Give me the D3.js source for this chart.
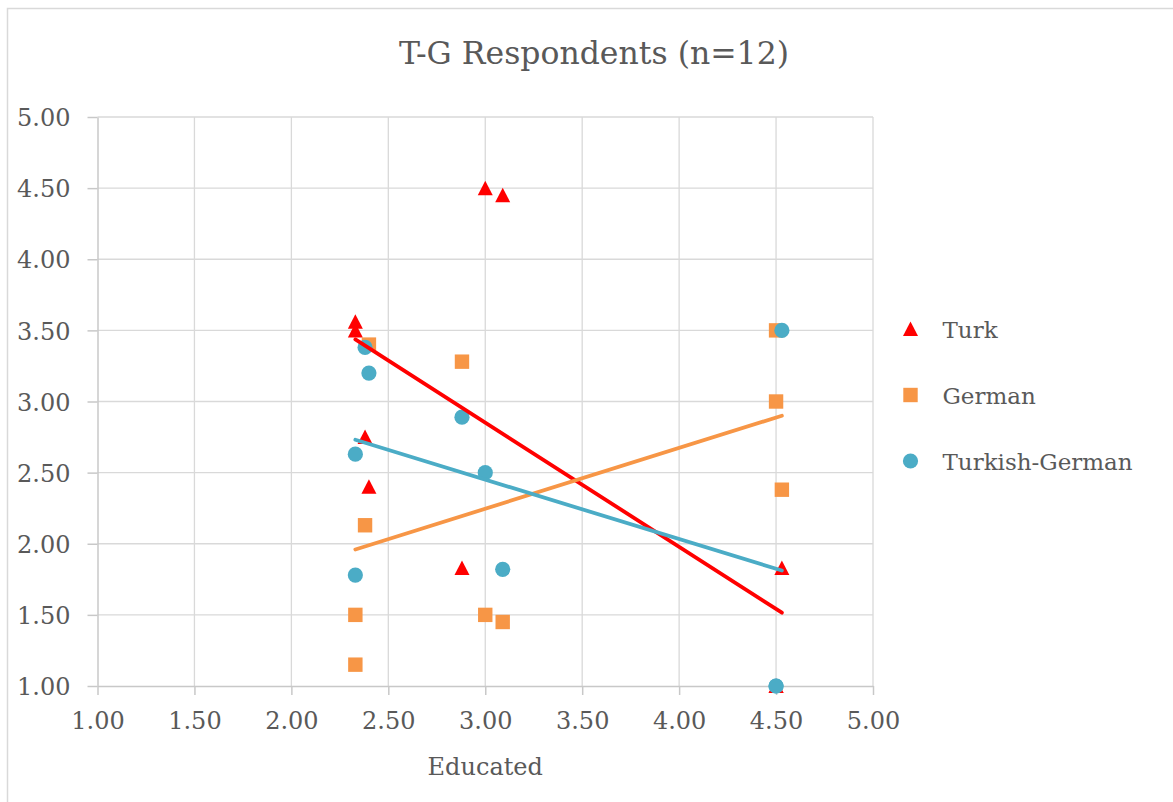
<!DOCTYPE html>
<html>
<head>
<meta charset="utf-8">
<script src="https://cdn.jsdelivr.net/npm/d3@7"></script>
<style>
  html, body { margin: 0; padding: 0; background: #fff; }
  svg { display: block; }
  text { font-family: "DejaVu Serif", "Liberation Serif", serif; fill: #595959; }
</style>
</head>
<body>
<svg id="chart" width="1173" height="802"></svg>
<script>
// Educated score of each respondent (x) and the three ratings (y)
const educated      = [2.33, 2.33, 2.38, 2.40, 2.88, 3.00, 3.09, 4.50, 4.50, 4.53];
const turk          = [3.56, 3.50, 2.75, 2.40, 1.83, 4.50, 4.45, 1.00, 1.00, 1.83];
const german        = [1.50, 1.15, 2.13, 3.40, 3.28, 1.50, 1.45, 3.50, 3.00, 2.38];
const turkishGerman = [2.63, 1.78, 3.38, 3.20, 2.89, 2.50, 1.82, 1.00, 1.00, 3.50];

const seriesNames  = ["Turk", "German", "Turkish-German"];
const seriesColors = ["#FF0000", "#F79646", "#4BACC6"];
const seriesShapes = ["triangle", "square", "circle"];
const seriesValues = [turk, german, turkishGerman];

const tickValues = [1.00, 1.50, 2.00, 2.50, 3.00, 3.50, 4.00, 4.50, 5.00];
const chartTitle = "T-G Respondents (n=12)";
const xTitle = "Educated";

const svg = d3.select("#chart");

// chart frame
svg.append("rect")
  .attr("x", 7.5).attr("y", 8.5)
  .attr("width", 1200).attr("height", 820)
  .attr("fill", "#fff").attr("stroke", "#D9D9D9").attr("stroke-width", 1.5);

const x = d3.scaleLinear().domain([1, 5]).range([97.5, 873]);
const y = d3.scaleLinear().domain([1, 5]).range([686, 117]);

// gridlines
const grid = svg.append("g").attr("stroke", "#D9D9D9").attr("stroke-width", 1.3);
grid.selectAll("line.v").data(tickValues.slice(1)).join("line")
  .attr("x1", d => x(d)).attr("x2", d => x(d))
  .attr("y1", y(1)).attr("y2", y(5));
grid.selectAll("line.h").data(tickValues.slice(1)).join("line")
  .attr("x1", x(1)).attr("x2", x(5))
  .attr("y1", d => y(d)).attr("y2", d => y(d));

// axes
const fmt = d3.format(".2f");
const xAxis = svg.append("g")
  .attr("transform", `translate(0,${y(1)})`)
  .call(d3.axisBottom(x).tickValues(tickValues).tickFormat(fmt).tickSize(9).tickSizeOuter(0).tickPadding(17));
const yAxis = svg.append("g")
  .attr("transform", `translate(${x(1)},0)`)
  .call(d3.axisLeft(y).tickValues(tickValues).tickFormat(fmt).tickSize(10).tickSizeOuter(0).tickPadding(17));

[xAxis, yAxis].forEach(a => {
  a.select(".domain").attr("stroke", "#C8C8C8").attr("stroke-width", 1.5);
  a.selectAll(".tick line").attr("stroke", "#C8C8C8").attr("stroke-width", 1.5);
  a.selectAll(".tick text")
    .attr("fill", "#595959")
    .style("font-family", '"DejaVu Serif", "Liberation Serif", serif')
    .style("font-size", "24px");
});
xAxis.selectAll(".tick text").attr("dy", "0.71em");
yAxis.selectAll(".tick text").attr("dy", "0.36em");

// marker shapes
function marker(sel, shape, color) {
  if (shape === "triangle") {
    sel.append("path").attr("d", "M0,-7.5L7.5,7L-7.5,7Z").attr("fill", color);
  } else if (shape === "square") {
    sel.append("rect").attr("x", -7.2).attr("y", -7.2).attr("width", 14.4).attr("height", 14.4).attr("fill", color);
  } else {
    sel.append("circle").attr("r", 7.6).attr("fill", color);
  }
}

// scatter points
seriesValues.forEach((vals, i) => {
  const g = svg.append("g");
  vals.forEach((v, j) => {
    const m = g.append("g").attr("transform", `translate(${x(educated[j])},${y(v)})`);
    marker(m, seriesShapes[i], seriesColors[i]);
  });
});

// least-squares trendlines across the range of educated scores
const xMin = d3.min(educated), xMax = d3.max(educated);
seriesValues.forEach((vals, i) => {
  const mx = d3.mean(educated), my = d3.mean(vals);
  let sxy = 0, sxx = 0;
  educated.forEach((xv, j) => { sxy += (xv - mx) * (vals[j] - my); sxx += (xv - mx) * (xv - mx); });
  const b = sxy / sxx, a = my - b * mx;
  svg.append("line")
    .attr("x1", x(xMin)).attr("y1", y(a + b * xMin))
    .attr("x2", x(xMax)).attr("y2", y(a + b * xMax))
    .attr("stroke", seriesColors[i]).attr("stroke-width", 3.8)
    .attr("stroke-linecap", "round");
});

// title
svg.append("text")
  .attr("x", 594).attr("y", 64)
  .attr("text-anchor", "middle")
  .style("font-size", "31.5px")
  .text(chartTitle);

// x axis title
svg.append("text")
  .attr("x", (x(1) + x(5)) / 2).attr("y", 775)
  .attr("text-anchor", "middle")
  .style("font-size", "24px")
  .text(xTitle);

// legend
const legendY = [329, 395, 461];
seriesNames.forEach((name, i) => {
  const g = svg.append("g").attr("transform", `translate(910.5,${legendY[i]})`);
  marker(g, seriesShapes[i], seriesColors[i]);
  g.append("text").attr("x", 32).attr("y", 8.5)
    .style("font-size", "23px")
    .text(name);
});
</script>
</body>
</html>
